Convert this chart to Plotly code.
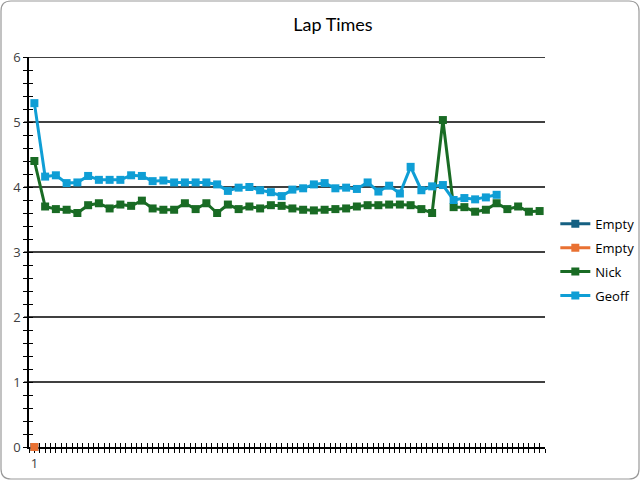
import plotly.graph_objects as go
import numpy as np

laps = list(range(1, 49))
empty1 = [0]
empty2 = [0]
nick = [4.40, 3.70, 3.66, 3.65, 3.60, 3.72, 3.75, 3.67, 3.73, 3.71, 3.79, 3.67,
        3.65, 3.65, 3.75, 3.66, 3.75, 3.60, 3.73, 3.66, 3.70, 3.67, 3.72, 3.71,
        3.67, 3.65, 3.64, 3.65, 3.66, 3.67, 3.70, 3.72, 3.72, 3.73, 3.73, 3.72,
        3.66, 3.60, 5.03, 3.69, 3.69, 3.62, 3.65, 3.75, 3.66, 3.70, 3.62, 3.63]
geoff = [5.29, 4.16, 4.18, 4.06, 4.07, 4.17, 4.11, 4.11, 4.11, 4.18, 4.17, 4.09,
         4.10, 4.07, 4.07, 4.07, 4.07, 4.04, 3.94, 3.99, 4.00, 3.95, 3.92, 3.86,
         3.96, 3.98, 4.04, 4.06, 3.98, 3.99, 3.97, 4.07, 3.93, 4.02, 3.90, 4.31,
         3.95, 4.01, 4.03, 3.80, 3.83, 3.81, 3.84, 3.88]
series_names = ["Empty", "Empty", "Nick", "Geoff"]
colors = ["#156082", "#E97132", "#196B24", "#0F9ED5"]

W, H = 641, 481
ML, MR, MT, MB = 29, 96, 57, 34
FONT = "Open Sans"

fig = go.Figure()
# invisible helper trace so the overlay axes (inner halves of cross ticks) are drawn
fig.add_trace(go.Scatter(x=[], y=[], xaxis="x2", yaxis="y2", showlegend=False, hoverinfo="skip"))

for i, (name, vals, col) in enumerate(zip(series_names, [empty1, empty2, nick, geoff], colors)):
    fig.add_trace(go.Scatter(
        x=laps[:len(vals)], y=vals, name=name, mode="lines+markers",
        line=dict(color=col, width=3),
        marker=dict(symbol="square", size=8, color=col),
        legendgroup=f"g{i}", cliponaxis=False,
    ))

n = len(laps)
xt = list(np.arange(0.5, n + 0.51, 0.5))
xtext = ["1" if abs(v - 1) < 1e-9 else "" for v in xt]
yt = [round(v, 1) for v in np.arange(0, 6.001, 0.2)]
ytext = [str(int(round(v))) if abs(v - round(v)) < 1e-9 else "" for v in yt]

fig.update_layout(
    width=W, height=H,
    margin=dict(l=ML, r=MR, t=MT, b=MB, autoexpand=False),
    paper_bgcolor="white", plot_bgcolor="white",
    font=dict(family=FONT, size=13, color="#404040"),
    title=dict(text="Lap Times", x=333 / W, xanchor="center", y=1 - 25 / H, yanchor="middle",
               font=dict(family="Lato", size=18, color="#000000")),
    xaxis=dict(range=[0.5, n + 0.5], tickvals=xt, ticktext=xtext, ticks="outside", ticklen=4,
               tickwidth=1, tickcolor="black", showline=True, linecolor="black", linewidth=1.5,
               showgrid=False, zeroline=False, automargin=False, layer="below traces",
               tickfont=dict(size=13, color="#404040")),
    yaxis=dict(range=[0, 6], tickvals=yt, ticktext=ytext, ticks="outside", ticklen=4,
               tickwidth=1, tickcolor="black", showline=True, linecolor="black", linewidth=1.5,
               showgrid=False, zeroline=False, automargin=False, layer="below traces",
               tickfont=dict(size=13, color="#404040")),
    xaxis2=dict(range=[0.5, n + 0.5], overlaying="x", anchor="y2", tickvals=xt, ticks="inside",
                ticklen=4, tickwidth=1, tickcolor="black", showticklabels=False, showline=False,
                showgrid=False, zeroline=False, automargin=False, layer="below traces"),
    yaxis2=dict(range=[0, 6], overlaying="y", anchor="x2", tickvals=yt, ticks="inside",
                ticklen=4, tickwidth=1, tickcolor="black", showticklabels=False, showline=False,
                showgrid=False, zeroline=False, automargin=False, layer="below traces"),
    legend=dict(x=1.02, xanchor="left", y=0.48, yanchor="middle", bgcolor="rgba(0,0,0,0)",
                font=dict(family=FONT, size=13, color="#000000"), traceorder="grouped",
                tracegroupgap=4, itemwidth=30),
    showlegend=True,
)

# integer gridlines (axis gridlines) across the plot width
for v in range(1, 7):
    fig.add_shape(type="line", xref="paper", yref="y", x0=0, x1=1, y0=v, y1=v,
                  line=dict(color="black", width=1.3), layer="below")
    fig.add_shape(type="line", xref="paper", yref="y", x0=-5 / (W - ML - MR), x1=0, y0=v, y1=v,
                  line=dict(color="black", width=1), layer="below")

# rounded chart-area border
pw, ph = W - ML - MR, H - MT - MB
def px(xp): return (xp - ML) / pw
def py(yp): return (H - MB - yp) / ph
x0, y0, x1, y1, r = 1, 1, W - 2, H - 2, 10
path = (f"M {px(x0 + r)},{py(y0)} L {px(x1 - r)},{py(y0)} Q {px(x1)},{py(y0)} {px(x1)},{py(y0 + r)} "
        f"L {px(x1)},{py(y1 - r)} Q {px(x1)},{py(y1)} {px(x1 - r)},{py(y1)} "
        f"L {px(x0 + r)},{py(y1)} Q {px(x0)},{py(y1)} {px(x0)},{py(y1 - r)} "
        f"L {px(x0)},{py(y0 + r)} Q {px(x0)},{py(y0)} {px(x0 + r)},{py(y0)} Z")
fig.add_shape(type="path", xref="paper", yref="paper", path=path,
              line=dict(color="#9A9A9A", width=1.2), layer="below")

fig.write_html("out.html", config={"displayModeBar": False},
               post_script="document.body.style.margin='0';document.body.style.overflow='hidden';")
